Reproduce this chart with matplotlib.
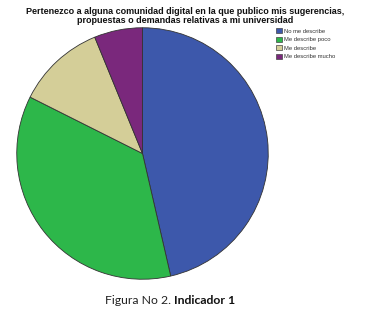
import matplotlib
matplotlib.use("Agg")
import matplotlib.pyplot as plt
from matplotlib.patches import Patch

categories = ["No me describe", "Me describe poco", "Me describe", "Me describe mucho"]
values = [46.4, 36.0, 11.4, 6.2]
colors = ["#3D58AB", "#2DB74A", "#D4CE98", "#7A287C"]
title = "Pertenezco a alguna comunidad digital en la que publico mis sugerencias,\npropuestas o demandas relativas a mi universidad"

W, H = 377, 317
fig = plt.figure(figsize=(W / 100, H / 100), dpi=100)
fig.patch.set_facecolor("white")

cx, cy, r = 142.5, 153.5, 127
ax = fig.add_axes([(cx - r) / W, (H - cy - r) / H, 2 * r / W, 2 * r / H])
ax.pie(values, colors=colors, startangle=90, counterclock=False, radius=1,
       wedgeprops=dict(edgecolor="#333333", linewidth=0.6))
ax.set_xlim(-1.01, 1.01)
ax.set_ylim(-1.01, 1.01)
ax.set_aspect("equal")
ax.axis("off")

fig.text(185 / W, 1 - 16 / H, title, ha="center", va="center", fontsize=6.5,
         fontweight="bold", family="Liberation Sans", linespacing=1.05, color="#111111")

handles = [Patch(facecolor=c, edgecolor="#444444", linewidth=0.5) for c in colors]
leg = fig.legend(handles, categories, loc="upper left", bbox_to_anchor=(276 / W, 1 - 28 / H),
                 frameon=False, handlelength=1.0, handleheight=1.0,
                 handletextpad=0.3, labelspacing=0.5, borderpad=0, borderaxespad=0,
                 prop=dict(family="Liberation Sans", size=4.2))
for t in leg.get_texts():
    t.set_color("#333333")

t1 = fig.text(105 / W, 1 - 300 / H, "Figura No 2. ", ha="left", va="center", fontsize=8.8,
              family="Lato", color="#222222")
ax.annotate("Indicador 1", xy=(1, 0.5), xycoords=t1, ha="left", va="center", fontsize=8.8,
            family="Lato", fontweight="bold", color="#111111", annotation_clip=False)

fig.savefig("out.png", dpi=100)
